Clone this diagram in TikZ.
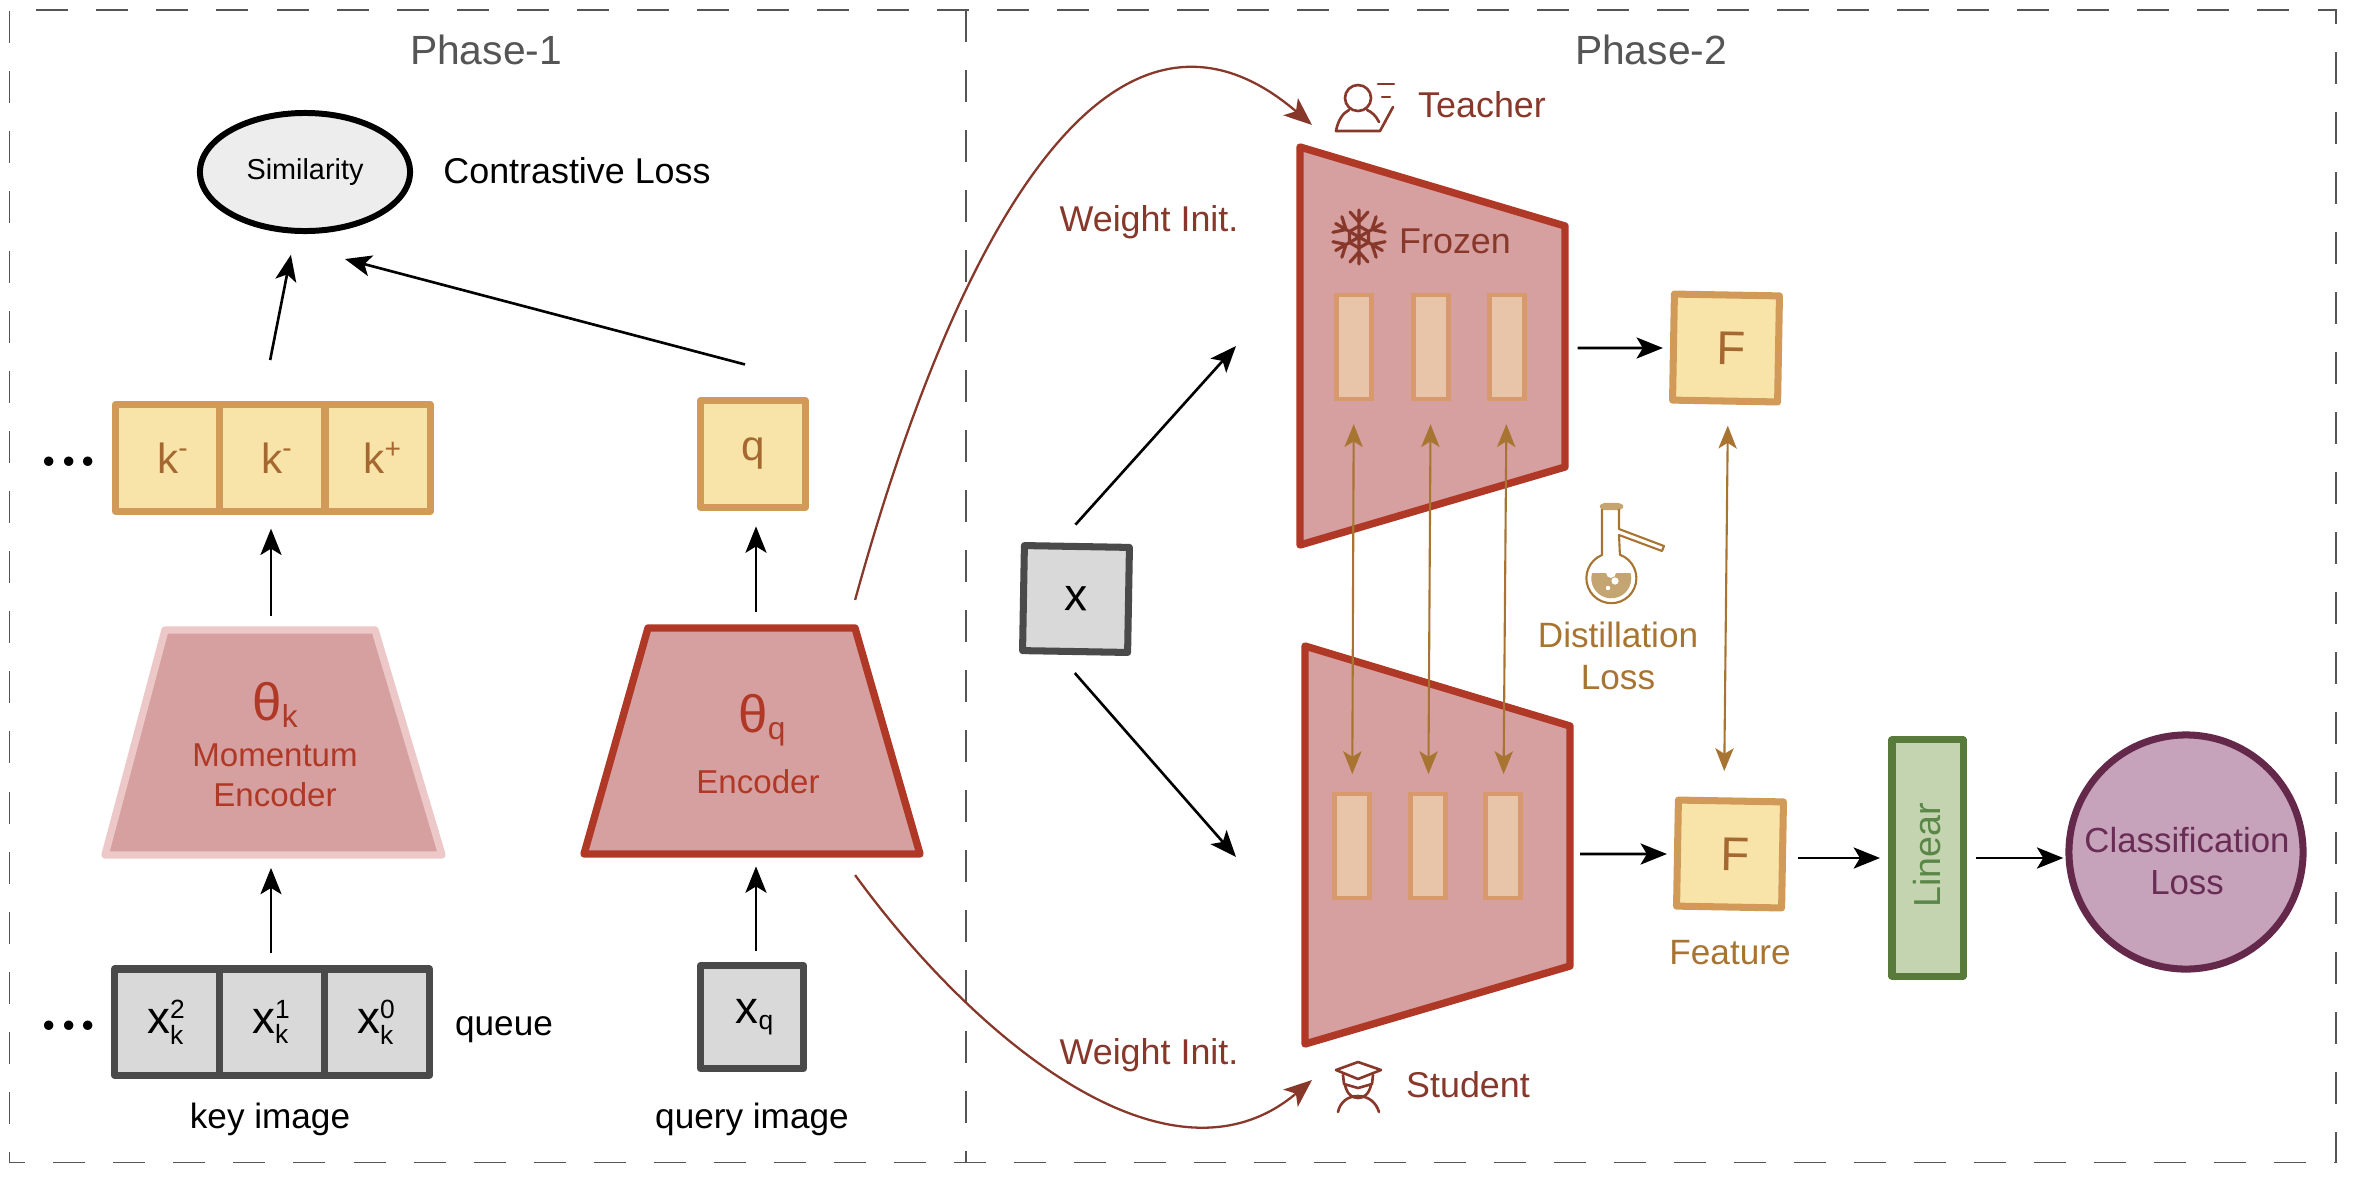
\documentclass[tikz,border=0pt]{standalone}
\usepackage{fontspec}
\setmainfont{Liberation Sans}
\usetikzlibrary{arrows.meta,shapes}
\definecolor{phasegray}{RGB}{85,85,85}
\definecolor{imgfill}{RGB}{217,217,217}
\definecolor{imgline}{RGB}{74,74,74}
\definecolor{featfill}{RGB}{248,228,168}
\definecolor{featline}{RGB}{209,154,88}
\definecolor{feattext}{RGB}{165,104,48}
\definecolor{encfill}{RGB}{214,160,160}
\definecolor{encline}{RGB}{176,56,38}
\definecolor{encfade}{RGB}{236,200,200}
\definecolor{layerfill}{RGB}{232,196,168}
\definecolor{layerline}{RGB}{216,154,108}
\definecolor{wine}{RGB}{136,56,42}
\definecolor{distill}{RGB}{168,116,50}
\definecolor{liquid}{RGB}{196,165,113}
\definecolor{linfill}{RGB}{197,212,176}
\definecolor{linline}{RGB}{88,122,58}
\definecolor{lintext}{RGB}{90,134,72}
\definecolor{clsfill}{RGB}{199,163,187}
\definecolor{clsline}{RGB}{100,40,75}
\definecolor{clstext}{RGB}{105,45,85}
\newcommand{\fsize}[1]{\fontsize{#1}{#1}\selectfont}
\newcommand{\keyimg}[1]{\raisebox{-0.5pt}{x$^{\mbox{\fsize{7.5}#1}}_{\mbox{\fsize{7.5}k}}$}}

\begin{document}
\begin{tikzpicture}[x=0.01cm,y=-0.01cm,>={Stealth[length=7.5pt,width=6pt,inset=1.8pt]},line width=0.75pt]
 \tikzstyle{imgbox}=[draw=imgline,fill=imgfill,line width=2pt,line join=round,minimum height=1.06cm,inner sep=0pt,font=\fsize{13}]
 \tikzstyle{featbox}=[draw=featline,fill=featfill,text=feattext,line width=2pt,line join=round,minimum width=1.05cm,minimum height=1.06cm,inner sep=0pt,font=\fsize{12}]
 \tikzstyle{encbox}=[inner sep=0pt,outer sep=0pt]
 \tikzstyle{enc}=[draw=encline,fill=encfill,line width=2.1pt,line join=round]
 \tikzstyle{layer}=[draw=layerline,fill=layerfill,line width=1.3pt,minimum width=0.35cm,minimum height=1.04cm,inner sep=0pt]
 \tikzstyle{enctext}=[text=encline,font=\fsize{9.4}]
 \tikzstyle{wlabel}=[text=wine,font=\fsize{10.2}]
 \tikzstyle{dlabel}=[text=distill,font=\fsize{10}]
 \tikzstyle{plain}=[font=\fsize{10}]
 \tikzstyle{dots}=[font=\fsize{18}\boldmath,inner sep=0pt]
 \tikzstyle{iconline}=[draw=wine,line width=0.75pt,line cap=round,line join=round,fill=none]
 \tikzstyle{flaskline}=[draw=distill,line width=0.6pt,line join=round,fill=none]
 \tikzstyle{swap}=[distill,<->,>={Stealth[length=6.5pt,width=5.2pt,inset=1.6pt]},line width=0.6pt]
 \tikzstyle{frame}=[phasegray,line width=0.55pt,dash pattern=on 9.1pt off 7.97pt]

 \useasboundingbox (0,0) rectangle (2354,1178);

 % phase frames
 \draw[frame,dash phase=4.6pt] (9.5,1162.5) -- (2336,1162.5) -- (2336,10) -- (9.5,10) -- cycle;
 \draw[frame] (966,10) -- (966,1162);
 \node[text=phasegray,font=\fsize{11.6}] (phase1) at (486,50) {Phase-1};
 \node[text=phasegray,font=\fsize{11.6}] (phase2) at (1651,50) {Phase-2};

 % phase 1
 \node[ellipse,draw=black,fill=black!7,line width=1.7pt,minimum width=2.1cm,minimum height=1.18cm,inner sep=0pt,font=\fsize{8.2}] (sim) at (305,172) {Similarity};
 \node[font=\fsize{10.2}] (closs) at (577,171) {Contrastive Loss};

 \node[featbox] (kneg1) at (168,458) {\hspace*{3pt}k\textsuperscript{-}};
 \node[featbox] (kneg2) at (272,458) {\hspace*{3pt}k\textsuperscript{-}};
 \node[featbox] (kpos) at (378,458) {\hspace*{3pt}k\textsuperscript{+}};
 \node[dots] (kdots) at (69,462) {$...$};
 \node[featbox] (q) at (753,454) {\raisebox{-1pt}{q}};

 \node[encbox,minimum width=3.37cm,minimum height=2.25cm] (menc) at (271,743) {};
 \draw[enc,draw=encfade] (105,855) -- (165,630) -- (375,630) -- (442,855) -- cycle;
 \node[text=encline,font=\fsize{15}] (mtheta) at (276,705) {θ\textsubscript{\fsize{9}k}};
 \node[enctext] (mname1) at (275,755) {Momentum};
 \node[enctext] (mname2) at (275,795) {Encoder};

 \node[encbox,minimum width=3.36cm,minimum height=2.26cm] (qenc) at (756,741) {};
 \draw[enc] (584,854) -- (648,628) -- (855,628) -- (920,854) -- cycle;
 \node[text=encline,font=\fsize{15}] (qtheta) at (763,720) {θ\textsubscript{\fsize{9}q}};
 \node[enctext] (qname) at (758,782) {Encoder};

 \node[imgbox,minimum width=1.05cm] (xk2) at (167,1022) {\keyimg{2}};
 \node[imgbox,minimum width=1.05cm] (xk1) at (272,1022) {\keyimg{1}};
 \node[imgbox,minimum width=1.05cm] (xk0) at (377,1022) {\keyimg{0}};
 \node[dots] (xdots) at (69,1026) {$...$};
 \node[plain] (queue) at (504,1030) {queue};
 \node[plain] (keyimg) at (270,1119) {key image};
 \node[imgbox,minimum width=1.03cm,minimum height=1.03cm] (xq) at (752,1017) {\raisebox{-3pt}{\hspace*{2pt}x\textsubscript{\fsize{7.5}q}}};
 \node[plain] (queryimg) at (752,1119) {query image};

 \path[->]
  (xk1.north -| menc.south) edge [shorten <=3.5pt,shorten >=3.5pt] (menc.south)
  (xq.north -| qenc.south) edge [shorten <=3pt,shorten >=3.5pt] (qenc.south)
  (menc.north) edge [shorten <=4pt,shorten >=4pt] (menc.north |- kneg2.south)
  (qenc.north) edge [shorten <=4.5pt,shorten >=4.5pt] (qenc.north |- q.south)
  ([xshift=-0.1cm]kneg2.north) edge [shorten <=12pt,shorten >=6pt] ([xshift=-0.1cm]sim.south)
  ([shift={(-8,-33)}]q.north) edge ([shift={(40,25)}]sim.south);

 % phase 2
 \node[imgbox,rotate=-1,minimum width=1.05cm,minimum height=1.05cm,font=\fsize{13}] (x) at (1076,599) {\raisebox{-1.5pt}{x}};

 \node[encbox,minimum width=2.65cm,minimum height=3.98cm] (teacher) at (1432,346) {};
 \draw[enc] (1300,147) -- (1565,226) -- (1565,467) -- (1300,545) -- cycle;
 \node[encbox,minimum width=2.65cm,minimum height=3.98cm] (student) at (1437,845) {};
 \draw[enc] (1305,646) -- (1570,726) -- (1570,966) -- (1305,1044) -- cycle;
 \node[wlabel] (frozen) at (1455,241) {Frozen};
 \node[wlabel] (tname) at (1482,105) {Teacher};
 \node[wlabel] (sname) at (1468,1085) {Student};
 \node[wlabel] (winit1) at (1149,222) {Weight Init.};
 \node[wlabel] (winit2) at (1149,1055) {Weight Init.};

 \node[layer] (tl1) at (1354,347) {};
 \node[layer] (tl2) at (1431,347) {};
 \node[layer] (tl3) at (1507,347) {};
 \node[layer] (sl1) at (1352,846) {};
 \node[layer] (sl2) at (1428,846) {};
 \node[layer] (sl3) at (1503,846) {};

 \node[featbox,rotate=-1,font=\fsize{13.5}] (ft) at (1726,348) {\hspace*{3pt}F};
 \node[featbox,rotate=-1,font=\fsize{13.5}] (fs) at (1730,854) {\hspace*{3pt}F};
 \node[dlabel] (feature) at (1730,953) {Feature};
 \node[dlabel,align=center,text width=2cm] (dloss) at (1618,656) {Distillation\\[1.9pt]Loss};

 \node[draw=linline,fill=linfill,line width=2pt,line join=round,minimum width=0.71cm,minimum height=2.36cm,inner sep=0pt] (linear) at (1927.5,858) {};
 \node[rotate=90,text=lintext,font=\fsize{10.7}] (linlabel) at (1927,855) {Linear};
 \node[circle,draw=clsline,fill=clsfill,line width=2pt,minimum size=2.34cm,inner sep=0pt] (cls) at (2186,852) {};
 \node[text=clstext,align=center,font=\fsize{9.9}] (clstext) at (2187,861) {Classification\\[2.2pt]Loss};

 \coordinate (tarrow) at (1312,125);
 \coordinate (sarrow) at (1312,1080);
 \coordinate (tin) at (1236,346);
 \coordinate (sin) at (1236,857);

 \path[->]
  ([xshift=-0.18cm]x.north) edge [shorten <=7pt] (tin)
  ([xshift=-0.16cm]x.south) edge [shorten <=6.8pt] (sin)
  (teacher.east |- ft) edge [shorten <=3.7pt,shorten >=2pt] (ft)
  (student.east |- fs) edge [shorten <=3pt,shorten >=2pt] (fs)
  (fs.east |- linear) edge [shorten <=3.4pt,shorten >=2.4pt] (linear)
  (linear) edge [shorten <=2.8pt,shorten >=0.6pt] (cls.west |- linear);

 \path[swap,shorten <=6.5pt,shorten >=5pt]
  (tl1) edge (sl1)
  (tl2) edge (sl2)
  (tl3) edge (sl3)
  ([xshift=0.03cm]ft.south) edge [shorten <=6pt,shorten >=7.5pt] ([xshift=-0.07cm]fs.north);

 % weight init curves
 \draw[wine,line width=0.65pt,-{Stealth[length=8pt,width=6.4pt,inset=2pt]}] ([shift={(-69,-28)}]qenc.north east) .. controls (968,190) and (1125,-35) .. (tarrow);
 \draw[wine,line width=0.65pt,-{Stealth[length=8pt,width=6.4pt,inset=2pt]}] ([shift={(-69,21)}]qenc.south east) .. controls (975,1040) and (1170,1200) .. (sarrow);

 % teacher icon
 \draw[iconline] (1358,98) circle (13);
 \draw[iconline] (1336,131) .. controls (1338,120) and (1343,113) .. (1349,110);
 \draw[iconline] (1367,110) .. controls (1372,112) and (1376,116) .. (1379,122);
 \draw[iconline] (1336,131) -- (1380,131) -- (1393,107);
 \draw[iconline] (1378,84) -- (1394,84);
 \draw[iconline] (1382,97) -- (1390,97);

 % student icon
 \draw[iconline] (1336,1070) -- (1358,1062) -- (1381,1070) -- (1358,1079) -- cycle;
 \draw[iconline] (1343,1075) -- (1344,1084) -- (1358,1088) -- (1372,1084) -- (1373,1075);
 \draw[iconline] (1345,1085) .. controls (1347,1094) and (1352,1098) .. (1358,1098) .. controls (1364,1098) and (1369,1094) .. (1371,1085);
 \draw[iconline] (1338,1112) .. controls (1340,1102) and (1348,1096) .. (1358,1096) .. controls (1368,1096) and (1376,1102) .. (1379,1112);

 % snowflake
 \foreach \a in {30,90,150,210,270,330}{
  \begin{scope}[shift={(1359,237)},rotate=\a]
   \draw[iconline,line width=0.9pt] (0,0) -- (27,0) (15,0) -- (25,9) (15,0) -- (25,-9);
   \draw[iconline,line width=0.9pt] (11,0) -- (5.5,9.5);
  \end{scope}
 }

 % flask
 \draw[flaskline,fill=liquid,draw=liquid,rounded corners=1pt] (1601,504) rectangle (1622,509);
 \draw[flaskline] (1602,509) -- (1602,555) arc (-112:-430:25) -- (1619,535) -- (1662,551) -- (1664,546) -- (1619,529) -- (1619,509);
 \fill[liquid] (1592,573) arc (-164.6:-375.4:20) -- (1616,573) arc (0:180:5) -- cycle;
 \fill[white] (1615,581) circle (3.6) (1608,588) circle (2.2);
\end{tikzpicture}
\end{document}
